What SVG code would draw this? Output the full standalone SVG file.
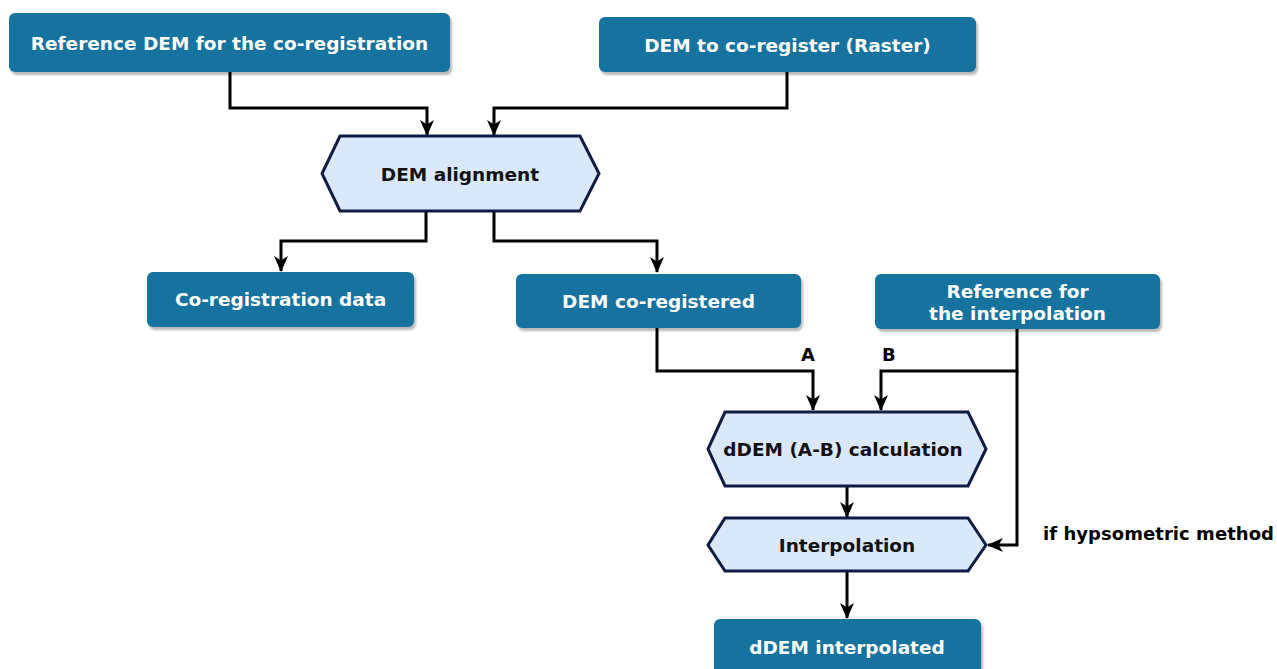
<svg xmlns="http://www.w3.org/2000/svg" width="1277" height="669" viewBox="0 0 1277 669">
  <defs>
    <marker id="arrow" viewBox="0 0 16 16" refX="15" refY="8" markerWidth="16" markerHeight="16" markerUnits="userSpaceOnUse" orient="auto">
      <path d="M0,1 L16,8 L0,15 L4.5,8 Z" fill="#000"/>
    </marker>
    <filter id="shadow" x="-5%" y="-10%" width="110%" height="130%">
      <feDropShadow dx="2" dy="3" stdDeviation="1.2" flood-color="#000" flood-opacity="0.28"/>
    </filter>
  </defs>
  <style>
    .box { fill: #13729e; filter: url(#shadow); }
    .hex { fill: #dae8fc; stroke: #0f1a45; stroke-width: 3; stroke-linejoin: miter; }
    .t { font-family: "DejaVu Sans", Verdana, sans-serif; font-weight: bold; font-size: 18.5px; text-anchor: middle; }
    .tw { fill: #ffffff; }
    .tb { fill: #111111; }
    .edge { fill: none; stroke: #000; stroke-width: 3; marker-end: url(#arrow); }
    .lbl { font-family: "DejaVu Sans", Verdana, sans-serif; font-weight: bold; font-size: 18px; fill: #000; }
  </style>
  <rect width="1277" height="669" fill="#ffffff"/>

  <!-- connectors -->
  <g id="connectors">
    <path class="edge" d="M230,72 V108 H427 V135"/>
    <path class="edge" d="M787,72 V108 H494 V135"/>
    <path class="edge" d="M426,211 V241 H281 V271"/>
    <path class="edge" d="M494,211 V241 H657 V272"/>
    <path class="edge" d="M657,328 V371 H813 V410"/>
    <path class="edge" d="M1017,329 V371 H881 V410"/>
    <path class="edge" d="M1017,371 V545 H988"/>
    <path class="edge" d="M847,486 V517"/>
    <path class="edge" d="M847,571 V618"/>
    <text class="lbl" x="801" y="361">A</text>
    <text class="lbl" x="882" y="361">B</text>
    <text class="lbl" x="1043" y="540" textLength="231">if hypsometric method</text>
  </g>

  <g id="ref-dem">
    <rect class="box" x="9" y="13" width="441" height="59" rx="6"/>
    <text class="t tw" x="229.5" y="50">Reference DEM for the co-registration</text>
  </g>

  <g id="dem-to-coregister">
    <rect class="box" x="599" y="17" width="377" height="55" rx="6"/>
    <text class="t tw" x="787.5" y="52">DEM to co-register (Raster)</text>
  </g>

  <g id="dem-alignment">
    <polygon class="hex" points="340,136 580,136 599,173.5 580,211 340,211 322,173.5"/>
    <text class="t tb" x="460" y="181">DEM alignment</text>
  </g>

  <g id="coreg-data">
    <rect class="box" x="147" y="272" width="267" height="55" rx="6"/>
    <text class="t tw" x="280.5" y="306">Co-registration data</text>
  </g>

  <g id="dem-coregistered">
    <rect class="box" x="516" y="274" width="285" height="54" rx="6"/>
    <text class="t tw" x="658.5" y="308">DEM co-registered</text>
  </g>

  <g id="ref-interp">
    <rect class="box" x="875" y="274" width="285" height="55" rx="6"/>
    <text class="t tw" x="1017.5" y="298">Reference for</text>
    <text class="t tw" x="1017.5" y="320">the interpolation</text>
  </g>

  <g id="ddem-calc">
    <polygon class="hex" points="725,412 968,412 986,449 968,486 725,486 708,449"/>
    <text class="t tb" x="843" y="456">dDEM (A-B) calculation</text>
  </g>

  <g id="interpolation">
    <polygon class="hex" points="725,518 968,518 986,545 968,571 725,571 708,545"/>
    <text class="t tb" x="847" y="552">Interpolation</text>
  </g>

  <g id="ddem-interpolated">
    <rect class="box" x="714" y="619" width="267" height="60" rx="6"/>
    <text class="t tw" x="847" y="654">dDEM interpolated</text>
  </g>
</svg>
